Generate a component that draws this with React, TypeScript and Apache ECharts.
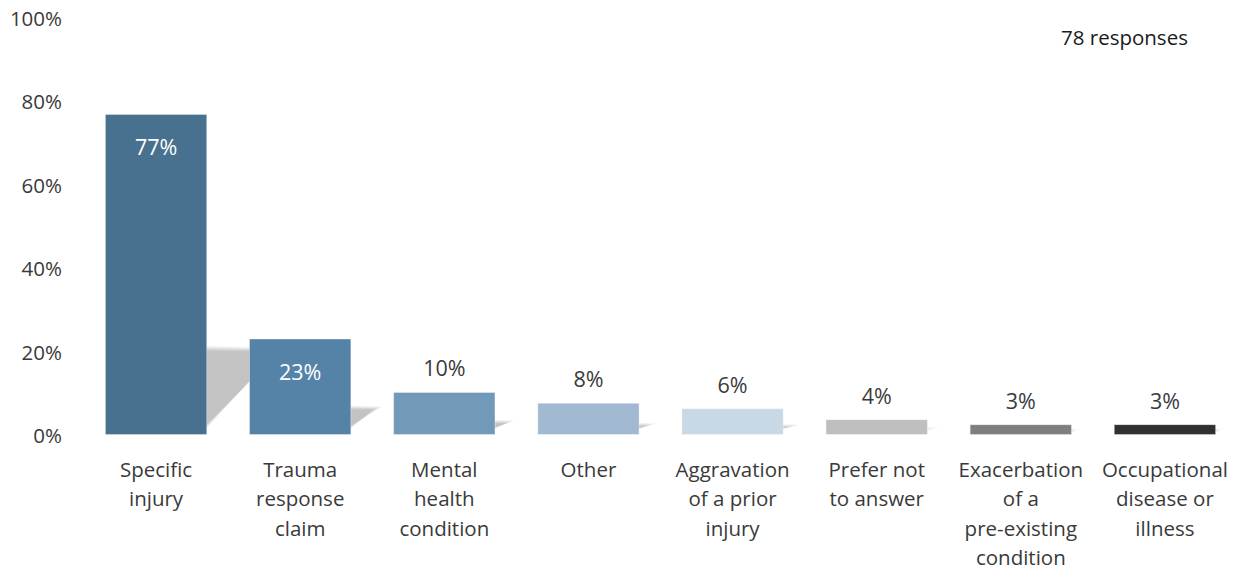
import React, { useEffect, useRef } from "react";
import * as echarts from "echarts";

const categories = [
  "Specific\ninjury",
  "Trauma\nresponse\nclaim",
  "Mental\nhealth\ncondition",
  "Other",
  "Aggravation\nof a prior\ninjury",
  "Prefer not\nto answer",
  "Exacerbation\nof a\npre-existing\ncondition",
  "Occupational\ndisease or\nillness",
];
const values = [76.9, 23.1, 10.3, 7.7, 6.4, 3.8, 2.6, 2.6];
const barColors = ["#48708F", "#5583A8", "#7399B8", "#A2BAD1", "#C8D8E5", "#BFBFBF", "#7F7F7F", "#303030"];
const insideLabel = [true, true, false, false, false, false, false, false];
const yTicks = [0, 20, 40, 60, 80, 100];
const noteText = "78 responses";

const FONT = "'Open Sans', sans-serif";
const BAR_RATIO = 0.71;

export default function App() {
  const ref = useRef<HTMLDivElement>(null);
  useEffect(() => {
    if (!ref.current) return;
    const chart = echarts.init(ref.current, null, { renderer: "svg" });
    chart.setOption({
      animation: false,
      backgroundColor: "#FFFFFF",
      textStyle: { fontFamily: FONT },
      grid: { left: 84, right: 4, top: 17.5, bottom: 132, containLabel: false },
      graphic: [
        {
          type: "text",
          left: 1061,
          top: 26,
          style: { text: noteText, font: `20.5px ${FONT}`, fill: "#1A1A1A" },
        },
      ],
      xAxis: {
        type: "category",
        data: categories,
        axisLine: { show: false },
        axisTick: { show: false },
        axisLabel: {
          interval: 0,
          margin: 19,
          fontSize: 20.5,
          lineHeight: 29.5,
          color: "#3A3A3A",
          fontFamily: FONT,
        },
      },
      yAxis: {
        type: "value",
        min: 0,
        max: 100,
        interval: 20,
        splitLine: { show: false },
        axisLine: { show: false },
        axisTick: { show: false },
        axisLabel: {
          margin: 22,
          fontSize: 20.5,
          color: "#3A3A3A",
          fontFamily: FONT,
          formatter: (v: number) => (yTicks.includes(v) ? `${v}%` : ""),
        },
      },
      series: [
        {
          type: "custom",
          z: 1,
          silent: true,
          data: values.map((v, i) => [i, v]),
          renderItem: (params: any, api: any) => {
            const idx = api.value(0);
            const val = api.value(1);
            const base = api.coord([idx, 0]);
            const top = api.coord([idx, val]);
            const band = api.size([1, 0])[0];
            const w = band * BAR_RATIO;
            const xL = base[0] - w / 2;
            const xR = base[0] + w / 2;
            const h = base[1] - top[1];
            const kh = h * 0.26;
            const dx = kh * 0.8;
            const layers = [];
            for (let j = 0; j < 9; j++) {
              const e = 14 - j * 1.6;
              layers.push({
                type: "polygon",
                shape: {
                  points: [
                    [xL + 4, base[1] - 6],
                    [xR - e * 0.4, base[1] - 6],
                    [xR + dx + e * 0.8, base[1] - kh - e * 0.25],
                    [xL + dx, base[1] - kh - e * 0.5],
                  ],
                },
                style: { fill: "rgba(0,0,0,0.028)" },
              });
            }
            return { type: "group", children: layers };
          },
        },
        {
          type: "bar",
          z: 2,
          barWidth: `${BAR_RATIO * 100}%`,
          data: values.map((v, i) => ({
            value: v,
            itemStyle: {
              color: barColors[i],
              borderColor: "rgba(255,255,255,0.35)",
              borderWidth: 1,
            },
            label: insideLabel[i]
              ? { position: "insideTop", distance: 22, color: "#FFFFFF" }
              : { position: "top", distance: 13, color: "#3A3A3A" },
          })),
          label: {
            show: true,
            fontSize: 21.5,
            fontFamily: FONT,
            formatter: (p: any) => `${Math.round(p.value)}%`,
          },
        },
      ],
    });
    return () => chart.dispose();
  }, []);
  return (
    <div
      ref={ref}
      style={{ position: "fixed", left: 0, top: 0, width: 1241, height: 572 }}
    />
  );
}
